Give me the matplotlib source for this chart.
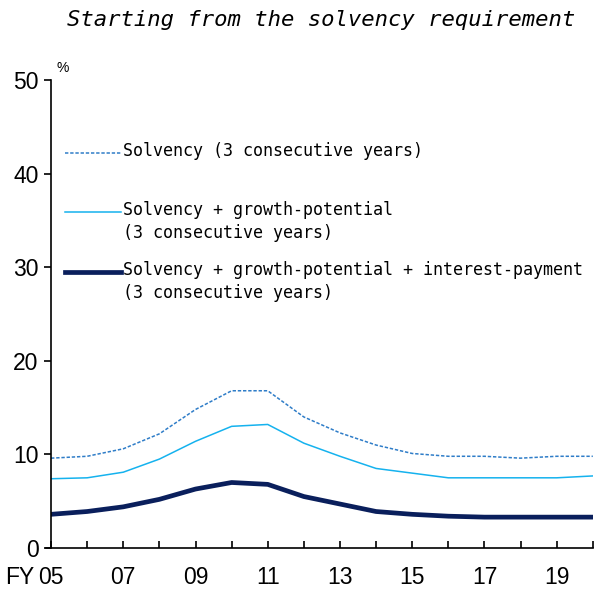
import matplotlib
matplotlib.use("Agg")
import matplotlib.pyplot as plt
import numpy as np

# data (FY2005-FY2020, %)
years = np.arange(2005, 2021)
solvency = [9.6, 9.8, 10.6, 12.2, 14.8, 16.8, 16.8, 14.0, 12.3, 11.0, 10.1, 9.8, 9.8, 9.6, 9.8, 9.8]
solv_growth = [7.4, 7.5, 8.1, 9.5, 11.4, 13.0, 13.2, 11.2, 9.8, 8.5, 8.0, 7.5, 7.5, 7.5, 7.5, 7.7]
solv_growth_int = [3.6, 3.9, 4.4, 5.2, 6.3, 7.0, 6.8, 5.5, 4.7, 3.9, 3.6, 3.4, 3.3, 3.3, 3.3, 3.3]

xtick_years = [2005, 2007, 2009, 2011, 2013, 2015, 2017, 2019]
xtick_labels = ["05", "07", "09", "11", "13", "15", "17", "19"]
yticks = [0, 10, 20, 30, 40, 50]

labels = ["Solvency (3 consecutive years)",
          "Solvency + growth-potential\n(3 consecutive years)",
          "Solvency + growth-potential + interest-payment\n(3 consecutive years)"]

c_dash = "#2F7DC8"
c_light = "#15B2EE"
c_dark = "#0A1F5C"

mono = "DejaVu Sans Mono"
num_font = "Liberation Sans"

fig = plt.figure(figsize=(5.94, 5.96), dpi=100)
ax = fig.add_axes([0.0859, 0.0805, 0.9121, 0.7853])

ax.plot(years, solvency, color=c_dash, lw=1.1, dashes=(2.2, 1.2))
ax.plot(years, solv_growth, color=c_light, lw=1.1)
ax.plot(years, solv_growth_int, color=c_dark, lw=3.4, solid_capstyle="round")

ax.set_xlim(2005, 2020)
ax.set_ylim(0, 50)
for s in ["top", "right"]:
    ax.spines[s].set_visible(False)
ax.spines["left"].set_linewidth(1.2)
ax.spines["bottom"].set_linewidth(1.2)
ax.spines["bottom"].set_bounds(2004.85, 2020)  # axis line pokes out a little left

ax.set_xticks(years, minor=True)
ax.set_xticks(xtick_years)
ax.set_xticklabels(xtick_labels, fontsize=16.5, family=num_font)
ax.tick_params(axis="x", which="both", direction="in", length=5, width=1.2, pad=13)
ax.set_yticks(yticks)
ax.set_yticklabels([str(v) for v in yticks], fontsize=16.5, family=num_font)
ax.tick_params(axis="y", direction="out", length=5, width=1.2, pad=4)

ax.text(-0.03, -0.063, "FY", transform=ax.transAxes, ha="right", va="center",
        fontsize=16.5, family=num_font)
ax.text(0.01, 1.01, "%", transform=ax.transAxes, ha="left", va="bottom",
        fontsize=10, family=num_font)

fig.text(0.54, 0.967, "Starting from the solvency requirement", ha="center", va="center",
         fontsize=16, family=mono, style="italic")

# legend drawn in axes coordinates
leg_y = [0.844, 0.718, 0.590]
leg_styles = [dict(color=c_dash, lw=1.1, dashes=(2.2, 1.2)),
              dict(color=c_light, lw=1.1),
              dict(color=c_dark, lw=3.4)]
for y, lab, st in zip(leg_y, labels, leg_styles):
    ax.plot([0.026, 0.129], [y, y], transform=ax.transAxes, **st)
    ax.text(0.132, y + 0.024, lab, transform=ax.transAxes, ha="left", va="top",
            fontsize=12, family=mono, linespacing=1.35)

fig.savefig("out.png", dpi=100)
